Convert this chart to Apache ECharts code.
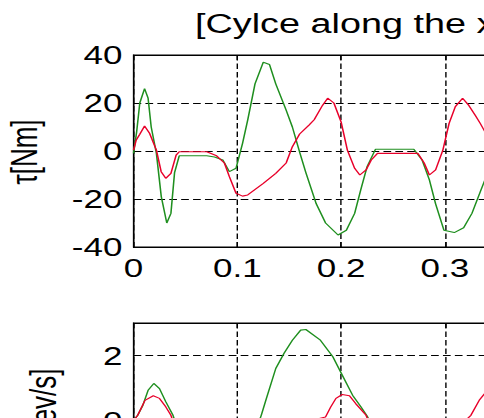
<!DOCTYPE html>
<html>
<head>
<meta charset="utf-8">
<script src="https://cdn.jsdelivr.net/npm/echarts@6/dist/echarts.min.js"></script>
<style>
  html, body { margin: 0; padding: 0; background: #fff; overflow: hidden; }
  /* the reference figure is stretched sideways, so draw narrow and widen */
  #wrap { width: 484px; height: 418px; overflow: hidden; }
  #chart { width: 346px; height: 418px; transform: scaleX(1.4); transform-origin: 0 0; }
</style>
</head>
<body>
<div id="wrap"><div id="chart"></div></div>
<script>
// torque, top plot [Nm]
const tTauGreen = [0, 0.003, 0.006, 0.0106, 0.014, 0.017, 0.022, 0.0267, 0.032, 0.036, 0.0395, 0.044, 0.0705, 0.078, 0.086, 0.0923, 0.0987, 0.105, 0.110, 0.117, 0.125, 0.131, 0.137, 0.147, 0.153, 0.160, 0.166, 0.176, 0.185, 0.197, 0.205, 0.213, 0.219, 0.225, 0.233, 0.270, 0.278, 0.285, 0.291, 0.299, 0.309, 0.318, 0.326, 0.334, 0.345];
const tauGreen = [-1, 8, 20, 26, 22, 10, -1, -19, -30, -26, -9, -2, -2, -2.5, -3.75, -8.6, -7.2, 3.2, 13, 28, 37, 36, 28, 17, 10, -0.5, -9, -22, -30, -35, -33, -26, -16, -6.5, 0.7, 0.7, -3.75, -12, -22, -33, -34, -32, -26, -17, -5];
const tTauRed = [0, 0.0026, 0.006, 0.0106, 0.0154, 0.022, 0.0266, 0.031, 0.036, 0.041, 0.044, 0.0705, 0.080, 0.0875, 0.0923, 0.0987, 0.105, 0.110, 0.125, 0.137, 0.147, 0.153, 0.160, 0.169, 0.174, 0.182, 0.187, 0.193, 0.200, 0.206, 0.213, 0.218, 0.224, 0.229, 0.235, 0.274, 0.280, 0.285, 0.291, 0.298, 0.304, 0.310, 0.317, 0.323, 0.329, 0.334, 0.345];
const tauRed = [0.4, 4.6, 7, 10.4, 7.4, 0.4, -8.6, -11.4, -9.3, -1.7, -0.3, -0.3, -2, -5, -10.7, -17.6, -18.8, -18.3, -13.5, -9.3, -5, 1.8, 7.1, 10.8, 13, 19, 22, 20, 12, 0.4, -7.2, -10, -7.9, -3.75, -1, -1, -5, -10, -7.9, 0.4, 11.5, 18.5, 22, 19, 15, 11.5, 3];

// velocity, bottom plot
const tVelGreen = [0, 0.004, 0.009, 0.014, 0.0195, 0.025, 0.031, 0.038, 0.045, 0.08, 0.118, 0.123, 0.128, 0.137, 0.145, 0.153, 0.161, 0.166, 0.180, 0.192, 0.201, 0.211, 0.219, 0.225, 0.232, 0.28, 0.345];
const velGreen = [0, 0.16, 0.47, 0.93, 1.14, 0.98, 0.58, 0.16, -0.5, -0.6, -0.3, 0.16, 0.68, 1.6, 2.07, 2.47, 2.78, 2.8, 2.47, 1.96, 1.4, 0.78, 0.42, 0.14, -0.3, -0.8, -0.5];
const tVelRed = [0, 0.004, 0.011, 0.019, 0.025, 0.031, 0.036, 0.042, 0.11, 0.185, 0.190, 0.195, 0.201, 0.208, 0.214, 0.224, 0.23, 0.31, 0.325, 0.333, 0.34];
const velRed = [0, 0.16, 0.62, 0.76, 0.68, 0.42, 0.16, -0.4, -0.5, 0.11, 0.42, 0.68, 0.8, 0.76, 0.52, 0.16, -0.3, -0.3, 0.16, 0.62, 0.9];

const titleText = '[Cylce along the x-axis]';
const tauName = 'τ[Nm]';
const velName = 'ω[rev/s]';

const zip = (xs, ys) => xs.map((x, i) => [x, ys[i]]);

const font = 'Arial, "Liberation Sans", sans-serif';
const grid = { lineStyle: { color: '#000', width: 1, type: [5.5, 3] } };
const axisLine = { show: true, onZero: false, lineStyle: { color: '#000' } };
const tickX = { show: true, inside: true, length: 5, lineStyle: { color: '#000' } };
const tickY = { show: true, inside: true, length: 3.6, lineStyle: { color: '#000' } };

const chart = echarts.init(document.getElementById('chart'), null, { renderer: 'svg' });

const xBottom = (gi) => ({
  type: 'value', gridIndex: gi, min: 0, max: 0.5, interval: 0.1, position: 'bottom',
  axisLine, axisTick: tickX,
  axisLabel: { color: '#000', fontSize: 25, fontFamily: font, margin: 8 },
  splitLine: Object.assign({ show: true }, grid)
});
const xTop = (gi) => ({
  type: 'value', gridIndex: gi, min: 0, max: 0.5, interval: 0.1, position: 'top',
  axisLine, axisTick: tickX,
  axisLabel: { show: false }, splitLine: { show: false }
});

const gridBase = { left: 95.4, width: 370.7, show: true, borderColor: '#000', borderWidth: 1,
  backgroundColor: '#fff', outerBoundsMode: 'none', containLabel: false };

const option = {
  animation: false,
  backgroundColor: '#fff',
  grid: [
    Object.assign({ top: 55, height: 192 }, gridBase),
    Object.assign({ top: 323, height: 227.5 }, gridBase)
  ],
  xAxis: [xBottom(0), xTop(0), xBottom(1), xTop(1)],
  yAxis: [{
    type: 'value', gridIndex: 0, min: -40, max: 40, interval: 20,
    axisLine, axisTick: tickY,
    axisLabel: { color: '#000', fontSize: 25, fontFamily: font, margin: 8 },
    splitLine: Object.assign({ show: true }, grid)
  }, {
    type: 'value', gridIndex: 1, min: -4, max: 3, interval: 2,
    axisLine, axisTick: tickY,
    axisLabel: { color: '#000', fontSize: 25, fontFamily: font, margin: 8, showMaxLabel: false },
    splitLine: Object.assign({ show: true }, grid)
  }],
  graphic: [
    { type: 'text', x: 139.3, y: 23.5,
      style: { text: titleText, fontSize: 27, fontFamily: font, fill: '#000', align: 'left', verticalAlign: 'middle' } },
    { type: 'text', x: 17.1, y: 152, rotation: Math.PI / 2,
      style: { text: tauName, fontSize: 26, fontFamily: font, fill: '#000', align: 'center', verticalAlign: 'middle' } },
    { type: 'text', x: 30.7, y: 414, rotation: Math.PI / 2,
      style: { text: velName, fontSize: 26, fontFamily: font, fill: '#000', align: 'center', verticalAlign: 'middle' } }
  ],
  series: [
    { type: 'line', xAxisIndex: 0, yAxisIndex: 0, data: zip(tTauGreen, tauGreen), symbol: 'none',
      lineStyle: { color: '#1f8f1f', width: 1.1 } },
    { type: 'line', xAxisIndex: 0, yAxisIndex: 0, data: zip(tTauRed, tauRed), symbol: 'none',
      lineStyle: { color: '#e8002a', width: 1.1 } },
    { type: 'line', xAxisIndex: 2, yAxisIndex: 1, data: zip(tVelGreen, velGreen), symbol: 'none',
      lineStyle: { color: '#1f8f1f', width: 1.1 } },
    { type: 'line', xAxisIndex: 2, yAxisIndex: 1, data: zip(tVelRed, velRed), symbol: 'none',
      lineStyle: { color: '#e8002a', width: 1.1 } }
  ]
};

chart.setOption(option);
</script>
</body>
</html>
